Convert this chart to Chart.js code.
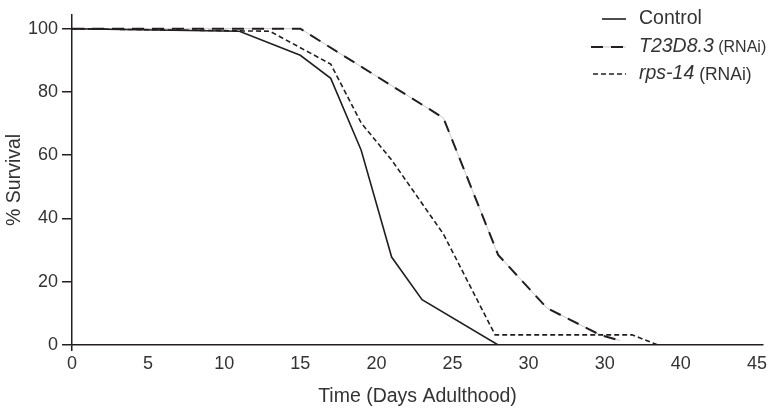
<!DOCTYPE html>
<html lang="en">
  <head>
    <meta charset="utf-8">
    <title>Survival</title>
    <script src="https://cdn.jsdelivr.net/npm/chart.js"></script>
    <style>
      body { margin: 0; background: #fff; }
    </style>
  </head>
  <body>
    <div style="width:774px; height:413px">
        <canvas id="myChart"></canvas>
    </div>
  </body>

  <script>
    // values (days, % survival)
    const controlDays = [0, 11, 15, 17, 19, 21, 23, 28];
    const controlSurvival = [100, 99.2, 91.6, 84.3, 61.6, 27.8, 14.3, 0];
    const t23Days = [0, 15, 24.4, 28, 31.2, 34.7, 36];
    const t23Survival = [100, 100, 71.8, 28.5, 11.7, 3.2, 1.4];
    const rpsDays = [0, 13, 17, 19, 21, 24.4, 27.8, 36.8, 38.5];
    const rpsSurvival = [100, 99.2, 88.8, 70.2, 58.5, 35.1, 3.2, 3.2, 0];

    const xTickValues = [0, 5, 10, 15, 20, 25, 30, 35, 40, 45];
    const xTickLabels = ['0', '5', '10', '15', '20', '25', '30', '30', '40', '45'];
    const yTickValues = [0, 20, 40, 60, 80, 100];

    // legend text: italic name + plain suffix
    const legendNames = ['Control', 'T23D8.3', 'rps-14'];
    const legendSuffix = ['', ' (RNAi)', ' (RNAi)'];

    const dark = '#231f20';
    const textColor = '#333333';
    const family = '"Liberation Sans", Arial, sans-serif';

    function pts(xs, ys) {
        return xs.map((x, i) => ({ x: x, y: ys[i] }));
    }

    const legendPlugin = {
        id: 'survivalLegend',
        afterDraw(chart) {
            const ctx = chart.ctx;
            const rows = [19, 47, 74];
            const dashes = [[], [12, 8], [5, 3]];
            const lineStart = [602, 591, 593];
            const suffixSize = [19.5, 16, 17.5];
            ctx.save();
            for (let i = 0; i < 3; i++) {
                const y = rows[i];
                if (i === 1) {
                    ctx.beginPath();
                    ctx.strokeStyle = '#c8c8c8';
                    ctx.lineWidth = 1;
                    ctx.moveTo(lineStart[i], y);
                    ctx.lineTo(626, y);
                    ctx.stroke();
                }
                ctx.beginPath();
                ctx.setLineDash(dashes[i]);
                ctx.strokeStyle = dark;
                ctx.lineWidth = i === 1 ? 2 : 1.6;
                ctx.moveTo(lineStart[i], y);
                ctx.lineTo(626, y);
                ctx.stroke();
                ctx.setLineDash([]);

                ctx.fillStyle = textColor;
                ctx.textBaseline = 'middle';
                ctx.textAlign = 'left';
                ctx.font = (i === 0 ? '' : 'italic ') + '19.5px ' + family;
                ctx.fillText(legendNames[i], 639, y);
                const w = ctx.measureText(legendNames[i]).width;
                if (legendSuffix[i]) {
                    ctx.font = suffixSize[i] + 'px ' + family;
                    ctx.fillText(legendSuffix[i], 639 + w, y + 1);
                }
            }
            ctx.restore();
        }
    };

    const ctx = document.getElementById('myChart').getContext('2d');
    const myChart = new Chart(ctx, {
        type: 'line',
        data: {
            datasets: [
                {
                    label: 'T23D8.3 (RNAi) guide',
                    data: pts(t23Days, t23Survival),
                    borderColor: '#c8c8c8',
                    borderWidth: 1,
                    pointRadius: 0,
                    tension: 0,
                    order: 10
                },
                {
                    label: 'Control',
                    data: pts(controlDays, controlSurvival),
                    borderColor: dark,
                    borderWidth: 1.6,
                    pointRadius: 0,
                    tension: 0,
                    order: 1
                },
                {
                    label: 'T23D8.3 (RNAi)',
                    data: pts(t23Days, t23Survival),
                    borderColor: dark,
                    borderWidth: 2,
                    borderDash: [12, 8],
                    pointRadius: 0,
                    tension: 0,
                    order: 2
                },
                {
                    label: 'rps-14 (RNAi)',
                    data: pts(rpsDays, rpsSurvival),
                    borderColor: dark,
                    borderWidth: 1.6,
                    borderDash: [5, 3],
                    pointRadius: 0,
                    tension: 0,
                    order: 3
                }
            ]
        },
        options: {
            responsive: true,
            maintainAspectRatio: false,
            animation: false,
            layout: { padding: { top: 3, right: 11, left: 0, bottom: 0 } },
            plugins: {
                legend: { display: false },
                tooltip: { enabled: false }
            },
            scales: {
                x: {
                    type: 'linear',
                    min: 0,
                    max: 45.4,
                    afterBuildTicks: s => { s.ticks = xTickValues.map(v => ({ value: v })); },
                    afterFit: s => { s.height = 68; },
                    border: { color: dark, width: 1.5 },
                    grid: {
                        drawOnChartArea: false,
                        tickLength: 6,
                        lineWidth: 1.5,
                        color: c => (c.tick && c.tick.value === 0) ? dark : 'rgba(0,0,0,0)'
                    },
                    ticks: {
                        autoSkip: false,
                        maxRotation: 0,
                        padding: 2,
                        color: textColor,
                        font: { family: family, size: 18 },
                        callback: (v, i) => xTickLabels[i]
                    },
                    title: {
                        display: true,
                        text: 'Time (Days Adulthood)',
                        color: textColor,
                        font: { family: family, size: 19.5 },
                        padding: { top: 0, bottom: 5 }
                    }
                },
                y: {
                    min: 0,
                    max: 104.4,
                    afterBuildTicks: s => { s.ticks = yTickValues.map(v => ({ value: v })); },
                    afterFit: s => { s.width = 72; },
                    border: { color: dark, width: 1.5 },
                    grid: {
                        drawOnChartArea: false,
                        tickLength: 10,
                        lineWidth: 1.5,
                        color: dark
                    },
                    ticks: {
                        padding: 4,
                        color: textColor,
                        font: { family: family, size: 18 }
                    },
                    title: {
                        display: true,
                        text: '% Survival',
                        color: textColor,
                        font: { family: family, size: 19.5 },
                        padding: { top: 3, bottom: 0 }
                    }
                }
            }
        },
        plugins: [legendPlugin]
    });
    </script>
</html>
